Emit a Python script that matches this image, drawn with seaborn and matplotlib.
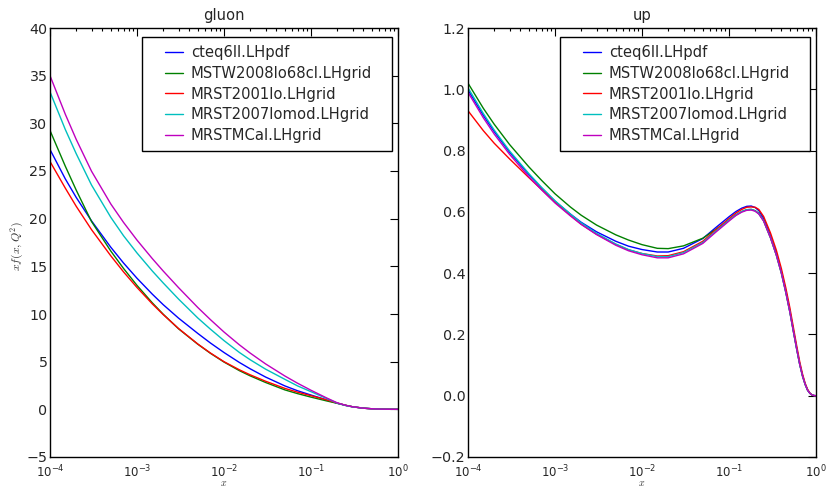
import numpy as np
import pandas as pd
import matplotlib
matplotlib.use("Agg")
import matplotlib.pyplot as plt
from matplotlib.lines import Line2D
from matplotlib.legend_handler import HandlerLine2D
import seaborn as sns

# ---------------- data ----------------
pdf_sets = ["cteq6ll.LHpdf", "MSTW2008lo68cl.LHgrid", "MRST2001lo.LHgrid",
            "MRST2007lomod.LHgrid", "MRSTMCal.LHgrid"]
colors = ["#0000ff", "#008000", "#ff0000", "#00bfbf", "#bf00bf"]

x_gluon = [1e-4, 1.5e-4, 2e-4, 3e-4, 5e-4, 7e-4, 1e-3, 1.5e-3, 2e-3, 3e-3,
           5e-3, 7e-3, 1e-2, 1.5e-2, 2e-2, 3e-2, 5e-2, 7e-2, 0.1, 0.15,
           0.2, 0.25, 0.3, 0.4, 0.5, 0.6, 0.7, 0.8, 0.9, 1.0]

gluon_cteq6ll = [27.25, 24.17, 22.23, 19.77, 17.0, 15.35, 13.75, 12.08, 10.98, 9.57,
                 7.96, 6.95, 5.96, 4.92, 4.25, 3.39, 2.46, 1.95, 1.50, 1.0,
                 0.64, 0.42, 0.27, 0.12, 0.06, 0.03, 0.015, 0.007, 0.003, 0.0]
gluon_mstw = [29.25, 25.5, 23.0, 19.7, 16.6, 14.78, 13.0, 11.17, 9.98, 8.45,
              6.83, 5.87, 4.96, 4.06, 3.51, 2.82, 2.04, 1.65, 1.28, 0.89,
              0.63, 0.42, 0.27, 0.12, 0.06, 0.03, 0.015, 0.007, 0.003, 0.0]
gluon_mrst2001 = [26.0, 23.2, 21.3, 18.85, 16.1, 14.42, 12.78, 11.06, 9.94, 8.48,
                  6.85, 5.9, 5.0, 4.15, 3.62, 2.95, 2.2, 1.8, 1.43, 1.0,
                  0.66, 0.42, 0.27, 0.12, 0.06, 0.03, 0.015, 0.007, 0.003, 0.0]
gluon_mrst2007 = [33.3, 29.35, 26.82, 23.53, 20.14, 18.21, 16.4, 14.51, 13.26, 11.57,
                  9.58, 8.40, 7.21, 5.97, 5.20, 4.22, 3.15, 2.46, 1.85, 1.15,
                  0.655, 0.40, 0.26, 0.12, 0.06, 0.03, 0.015, 0.007, 0.003, 0.0]
gluon_mrstmcal = [35.0, 30.95, 28.32, 24.98, 21.54, 19.61, 17.75, 15.81, 14.51, 12.77,
                  10.68, 9.40, 8.11, 6.77, 5.90, 4.77, 3.50, 2.74, 2.0, 1.21,
                  0.685, 0.42, 0.27, 0.12, 0.06, 0.03, 0.015, 0.007, 0.003, 0.0]

x_up = [1e-4, 1.5e-4, 2e-4, 3e-4, 5e-4, 7e-4, 1e-3, 1.5e-3, 2e-3, 3e-3,
        5e-3, 7e-3, 1e-2, 1.5e-2, 2e-2, 3e-2, 5e-2, 7e-2, 0.1, 0.12,
        0.14, 0.16, 0.18, 0.2, 0.22, 0.25, 0.3, 0.35, 0.4, 0.45,
        0.5, 0.55, 0.6, 0.65, 0.7, 0.75, 0.8, 0.85, 0.9, 0.95, 1.0]

up_cteq6ll = [0.998, 0.915, 0.862, 0.795, 0.722, 0.678, 0.635, 0.593, 0.566, 0.535,
              0.504, 0.488, 0.477, 0.469, 0.469, 0.481, 0.513, 0.548, 0.584, 0.601,
              0.612, 0.618, 0.619, 0.614, 0.604, 0.579, 0.522, 0.465, 0.405, 0.342,
              0.278, 0.213, 0.155, 0.104, 0.066, 0.038, 0.019, 0.008, 0.0025, 0.0005, 0.0]
up_mstw = [1.020, 0.938, 0.886, 0.820, 0.747, 0.703, 0.659, 0.616, 0.589, 0.557,
           0.525, 0.508, 0.493, 0.481, 0.480, 0.489, 0.514, 0.542, 0.573, 0.590,
           0.601, 0.607, 0.608, 0.604, 0.595, 0.571, 0.515, 0.459, 0.400, 0.337,
           0.274, 0.209, 0.152, 0.102, 0.064, 0.037, 0.018, 0.008, 0.0025, 0.0005, 0.0]
up_mrst2001 = [0.930, 0.865, 0.824, 0.773, 0.712, 0.673, 0.632, 0.589, 0.560, 0.527,
               0.494, 0.476, 0.464, 0.456, 0.457, 0.470, 0.504, 0.541, 0.578, 0.596,
               0.608, 0.615, 0.616, 0.615, 0.608, 0.585, 0.531, 0.475, 0.415, 0.352,
               0.288, 0.223, 0.163, 0.111, 0.071, 0.041, 0.021, 0.009, 0.0025, 0.0005, 0.0]
up_mrst2007 = [1.005, 0.921, 0.867, 0.799, 0.725, 0.680, 0.636, 0.593, 0.564, 0.530,
               0.495, 0.477, 0.464, 0.454, 0.454, 0.467, 0.500, 0.536, 0.573, 0.590,
               0.601, 0.607, 0.608, 0.603, 0.594, 0.571, 0.516, 0.459, 0.400, 0.337,
               0.274, 0.210, 0.152, 0.102, 0.064, 0.037, 0.018, 0.008, 0.0025, 0.0005, 0.0]
up_mrstmcal = [0.990, 0.907, 0.854, 0.788, 0.715, 0.672, 0.629, 0.587, 0.559, 0.526,
               0.491, 0.473, 0.460, 0.450, 0.450, 0.463, 0.497, 0.533, 0.570, 0.588,
               0.599, 0.605, 0.606, 0.602, 0.593, 0.570, 0.515, 0.459, 0.400, 0.337,
               0.274, 0.209, 0.152, 0.102, 0.064, 0.037, 0.018, 0.008, 0.0025, 0.0005, 0.0]

gluon_series = [gluon_cteq6ll, gluon_mstw, gluon_mrst2001, gluon_mrst2007, gluon_mrstmcal]
up_series = [up_cteq6ll, up_mstw, up_mrst2001, up_mrst2007, up_mrstmcal]


def long_table(xs, series):
    frames = []
    for name, vals in zip(pdf_sets, series):
        frames.append(pd.DataFrame({"x": xs, "value": vals, "pdf": name}))
    return pd.concat(frames, ignore_index=True)


df_gluon = long_table(x_gluon, gluon_series)
df_up = long_table(x_up, up_series)


class RightAlignedLine(HandlerLine2D):
    """Legend line drawn only over the right part of the handle box."""

    def __init__(self, seg, **kw):
        super().__init__(**kw)
        self.seg = seg

    def create_artists(self, legend, orig_handle, xdescent, ydescent, width,
                       height, fontsize, trans):
        arts = super().create_artists(legend, orig_handle, xdescent, ydescent,
                                      width, height, fontsize, trans)
        for a in arts:
            if isinstance(a, Line2D):
                xd = np.asarray(a.get_xdata(), dtype=float)
                x1 = xd.max()
                a.set_xdata(np.linspace(x1 - self.seg * fontsize, x1, len(xd)))
        return arts


# ---------------- style ----------------
sns.set_style("white")
plt.rcParams.update({
    "font.family": ["DejaVu Sans"],
    "mathtext.fontset": "cm",
    "axes.edgecolor": "black",
    "axes.linewidth": 1.0,
})

fig = plt.figure(figsize=(8.27, 4.88), dpi=100)
fig.patch.set_facecolor("white")
ax1 = fig.add_axes([50 / 827, 31 / 488, 348 / 827, 429 / 488])
ax2 = fig.add_axes([468 / 827, 31 / 488, 348 / 827, 429 / 488])

fs = 10.6
panels = [
    (ax1, df_gluon, "gluon", (-5, 40), np.arange(-5, 41, 5), "{:.0f}"),
    (ax2, df_up, "up", (-0.2, 1.2), np.arange(-0.2, 1.21, 0.2), "{:.1f}"),
]
for ax, df, title, ylim, yticks, fmt in panels:
    sns.lineplot(data=df, x="x", y="value", hue="pdf", hue_order=pdf_sets,
                 palette=colors, estimator=None, sort=False, linewidth=1.0,
                 ax=ax, legend=True)
    ax.set_xscale("log")
    ax.set_xlim(1e-4, 1.0)
    ax.set_ylim(*ylim)
    ax.set_yticks(yticks)
    ax.set_yticklabels([fmt.format(v).replace("-", "\u2212") for v in yticks])
    ax.tick_params(axis="both", which="both", direction="in", top=True, right=True,
                   color="black", width=0.8)
    ax.tick_params(axis="both", which="major", length=5.5)
    ax.tick_params(axis="x", which="minor", length=2.5)
    ax.tick_params(axis="y", which="major", labelsize=10.3, pad=1.8)
    ax.tick_params(axis="x", which="major", labelsize=8.5, pad=4.8)
    ax.set_title(title, fontsize=fs, pad=6)
    ax.set_xlabel("$x$", fontsize=7.2, color="#333333", va="bottom")
    ax.xaxis.set_label_coords(0.5, -(487.5 - 457) / 429)
    ax.set_ylabel("")
    for s in ax.spines.values():
        s.set_visible(True)
        s.set_color("black")
        s.set_linewidth(1.0)
    handles, labels = ax.get_legend_handles_labels()
    leg = ax.legend(handles, labels, loc="upper left",
                    bbox_to_anchor=(0.2644, 0.0, 0.7184, 0.979), mode="expand",
                    borderaxespad=0.0, fontsize=fs,
                    frameon=True, fancybox=False, edgecolor="black",
                    framealpha=1.0, handlelength=2.26, handletextpad=0.52,
                    labelspacing=0.4, borderpad=0.53,
                    handler_map={Line2D: RightAlignedLine(1.22)})
    leg.get_frame().set_linewidth(1.0)

ax1.set_ylabel("$xf(x,Q^2)$", fontsize=8.5, color="#333333")
ax1.yaxis.set_label_coords(-0.07, 0.492)

fig.savefig("out.png", dpi=100, facecolor="white")
